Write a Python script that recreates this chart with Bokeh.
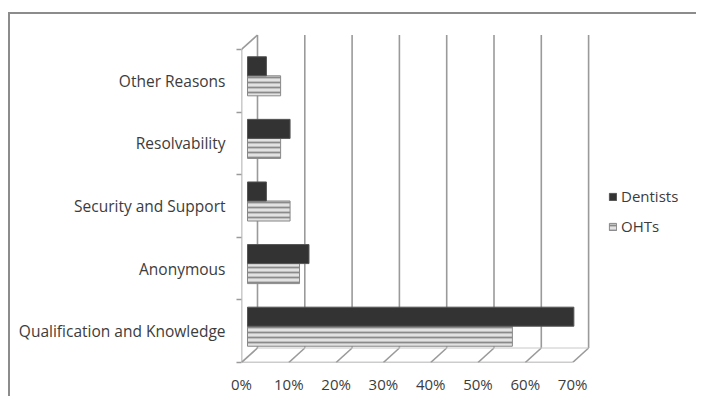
from bokeh.plotting import figure
from bokeh.models import (FixedTicker, Legend, LegendItem,
                          ColumnDataSource, Range1d)
from bokeh.embed import file_html
from bokeh.resources import INLINE

# ---- data (bottom to top) ----
categories = ["Qualification and Knowledge", "Anonymous", "Security and Support",
              "Resolvability", "Other Reasons"]
dentists = [69, 13, 4, 9, 4]
ohts = [56, 11, 9, 7, 7]
x_ticks = [0, 10, 20, 30, 40, 50, 60, 70]
x_tick_labels = ["0%", "10%", "20%", "30%", "40%", "50%", "60%", "70%"]

# ---- style / layout constants ----
PX_X = 4.73      # px per percent
PX_Y = 62.6      # px per category
DX = 16 / PX_X   # depth offset (x) of the back wall
DY = 14.5 / PX_Y # depth offset (y) of the back wall
BAR_X0 = 6 / PX_X
TEXT = "#3c3c3c"
GRID = "#9a9a9a"
FONT = "Open Sans"

n = len(categories)
centers = [i + 0.5 for i in range(n)]
bounds = [float(i) for i in range(n + 1)]
xmax = x_ticks[-1]

OX, OY = 10, 14          # canvas origin on the page (after css margin+border)
FL, FT = 241, 30         # frame left / top on page
FW, FH = 455, 332        # frame size
p = figure(frame_width=FW, frame_height=FH,
           x_range=Range1d(0, FW / PX_X),
           y_range=Range1d(0, FH / PX_Y),
           output_backend="svg", toolbar_location=None,
           min_border_left=FL - OX, min_border_right=0,
           min_border_top=FT - OY, min_border_bottom=30)
p.styles = {"margin-left": "8px", "margin-top": "12px",
            "border-left": "2px solid #8c8c8c", "border-top": "2px solid #8c8c8c"}
p.outline_line_color = None
p.xgrid.visible = False
p.ygrid.visible = False
p.background_fill_color = "white"

# x axis
p.xaxis.ticker = FixedTicker(ticks=x_ticks)
p.xaxis.major_label_overrides = {v: s for v, s in zip(x_ticks, x_tick_labels)}
p.xaxis.axis_line_color = None
p.xaxis.major_tick_line_color = None
p.xaxis.major_tick_out = 0
p.xaxis.major_tick_in = 0
p.xaxis.minor_tick_line_color = None
p.xaxis.major_label_standoff = 11
p.xaxis.major_label_text_font = FONT
p.xaxis.major_label_text_font_size = "15px"
p.xaxis.major_label_text_color = TEXT

# y axis
p.yaxis.ticker = FixedTicker(ticks=centers, minor_ticks=bounds)
p.yaxis.major_label_overrides = {c: s for c, s in zip(centers, categories)}
p.yaxis.axis_line_color = None
p.yaxis.major_tick_line_color = None
p.yaxis.minor_tick_out = 5
p.yaxis.minor_tick_in = 0
p.yaxis.minor_tick_line_color = GRID
p.yaxis.minor_tick_line_width = 1.5
p.yaxis.major_label_standoff = 10
p.yaxis.major_label_text_font = FONT
p.yaxis.major_label_text_font_size = "15.5px"
p.yaxis.major_label_text_color = TEXT

# ---- 3D frame ----
back_x = [v + DX for v in x_ticks]
p.segment(x0=back_x, y0=[DY] * len(x_ticks), x1=back_x, y1=[n + DY] * len(x_ticks),
          line_color=GRID, line_width=1.6)
p.segment(x0=x_ticks, y0=[0] * len(x_ticks), x1=back_x, y1=[DY] * len(x_ticks),
          line_color=GRID, line_width=1.6)
p.segment(x0=[DX], y0=[DY], x1=[xmax + DX], y1=[DY], line_color="#c8c8c8", line_width=1)
p.segment(x0=[0, 0, 0], y0=[0, 0, n], x1=[0, xmax, DX], y1=[n, 0, n + DY],
          line_color=GRID, line_width=1.6)

# ---- bars ----
src = ColumnDataSource(dict(
    yd=[c + 0.232 for c in centers],
    yo=[c - 0.08 for c in centers],
    d_right=[BAR_X0 + v for v in dentists],
    o_right=[BAR_X0 + v for v in ohts],
    left=[BAR_X0] * n,
))
r_o = p.hbar(y="yo", left="left", right="o_right", height=0.32, source=src,
             fill_color="#e2e2e2", line_color="#888888", line_width=1,
             hatch_pattern="horizontal_line", hatch_color="#8a8a8a",
             hatch_scale=5, hatch_weight=1.8)
r_d = p.hbar(y="yd", left="left", right="d_right", height=0.304, source=src,
             fill_color="#333333", line_color="#555555", line_width=1)

# ---- legend ----
legend = Legend(items=[LegendItem(label="Dentists", renderers=[r_d]),
                       LegendItem(label="OHTs", renderers=[r_o])],
                location=(367, 126))
legend.border_line_color = None
legend.background_fill_alpha = 0
legend.padding = 0
legend.margin = 0
legend.spacing = 10
legend.label_height = 20
legend.glyph_height = 9
legend.glyph_width = 9
legend.label_standoff = 4
legend.label_text_font = FONT
legend.label_text_font_size = "15px"
legend.label_text_color = TEXT
p.add_layout(legend)

open("out.html", "w").write(file_html(p, INLINE))
